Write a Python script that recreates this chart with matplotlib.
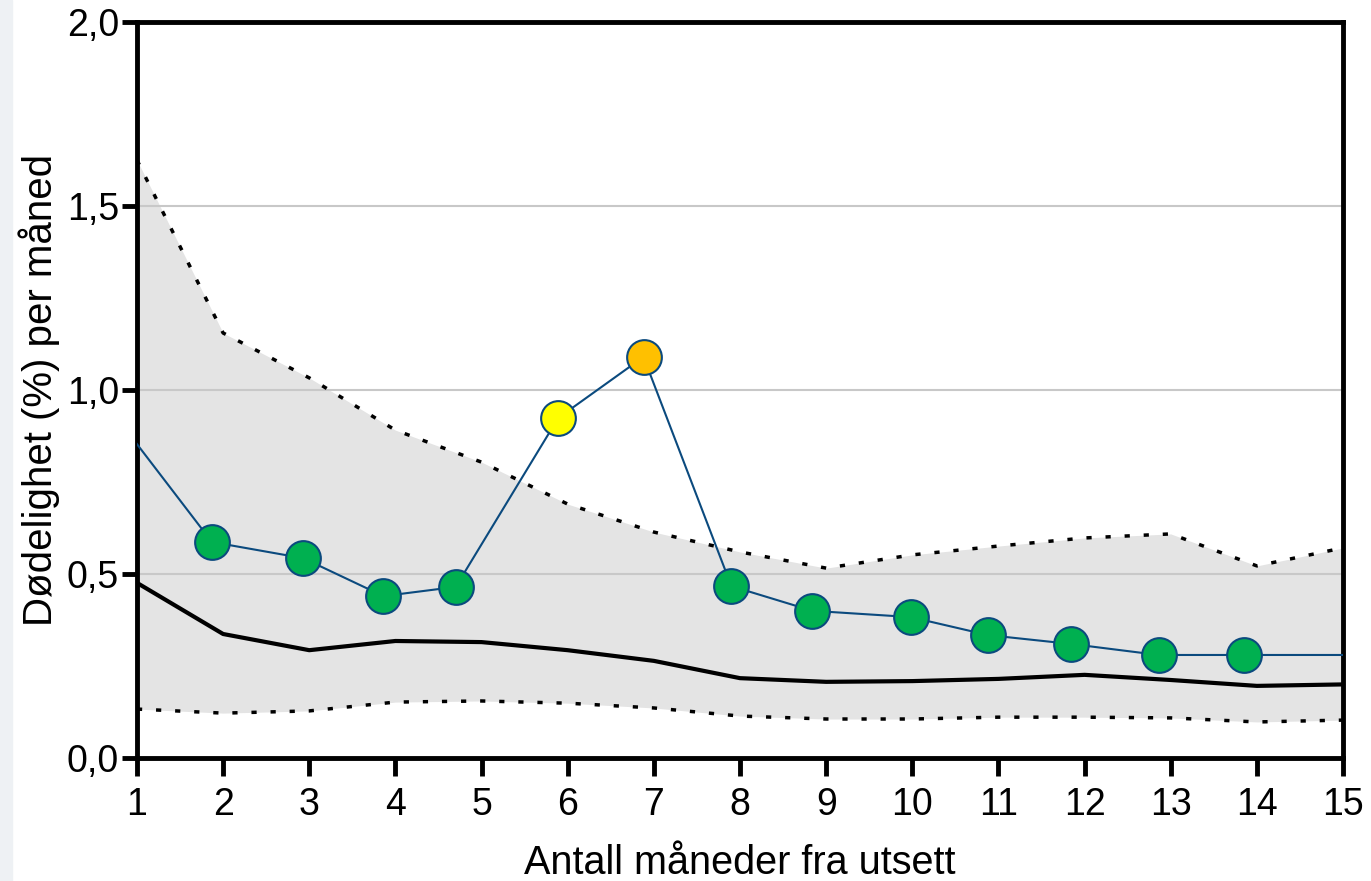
import matplotlib
matplotlib.use("Agg")
import matplotlib.pyplot as plt
from matplotlib.patches import Rectangle

plt.rcParams['font.family'] = ['Liberation Sans', 'DejaVu Sans']

# data
months = list(range(1, 16))
upper = [1.625, 1.155, 1.033, 0.891, 0.804, 0.690, 0.614, 0.560, 0.516,
         0.552, 0.576, 0.598, 0.609, 0.522, 0.571]
median = [0.476, 0.337, 0.293, 0.318, 0.315, 0.293, 0.264, 0.217, 0.207,
          0.209, 0.215, 0.226, 0.212, 0.196, 0.200]
lower = [0.133, 0.122, 0.128, 0.152, 0.155, 0.149, 0.136, 0.114, 0.106,
         0.106, 0.111, 0.111, 0.109, 0.098, 0.103]

obs_x = [1.0, 1.87, 2.93, 3.86, 4.70, 5.89, 6.88, 7.90, 8.84, 9.98,
         10.88, 11.84, 12.86, 13.85, 15.0]
obs_y = [0.853, 0.587, 0.543, 0.440, 0.465, 0.924, 1.090, 0.467, 0.400,
         0.383, 0.334, 0.310, 0.280, 0.280, 0.280]
obs_col = [None, '#00b050', '#00b050', '#00b050', '#00b050', '#ffff00',
           '#ffc000', '#00b050', '#00b050', '#00b050', '#00b050', '#00b050',
           '#00b050', '#00b050', None]

fig = plt.figure(figsize=(13.71, 8.81), dpi=100)
fig.patches.append(Rectangle((0, 0), 12 / 1371, 1, transform=fig.transFigure,
                             color='#eef1f4', zorder=0))
ax = fig.add_axes([0.0999, 0.1396, 0.8797, 0.8354])

ax.fill_between(months, lower, upper, color='#e4e4e4', lw=0, zorder=1)
for y in [0.5, 1.0, 1.5]:
    ax.axhline(y, color='#c8c8c8', lw=1.5, zorder=2)

ax.plot(months, upper, color='black', lw=2.5, ls=(0, (1.5, 4)), zorder=3)
ax.plot(months, lower, color='black', lw=2.5, ls=(0, (1.5, 4)), zorder=3)
ax.plot(months, median, color='black', lw=3, zorder=3)

ax.plot(obs_x, obs_y, color='#0b4a7e', lw=1.5, zorder=4)
for x, y, c in zip(obs_x, obs_y, obs_col):
    if c:
        ax.plot(x, y, 'o', ms=25, mfc=c, mec='#0b4a7e', mew=1.5, zorder=5)

ax.set_xlim(1, 15)
ax.set_ylim(0, 2.0)
ax.set_xticks(months)
ax.set_yticks([0, 0.5, 1.0, 1.5, 2.0])
ax.set_yticklabels(['0,0', '0,5', '1,0', '1,5', '2,0'])
ax.tick_params(axis='both', labelsize=27, width=3.5, direction='out')
ax.tick_params(axis='x', length=13, pad=8)
ax.tick_params(axis='y', length=11, pad=2)
for s in ax.spines.values():
    s.set_linewidth(3.5)

ax.set_xlabel('Antall måneder fra utsett', fontsize=28.5, labelpad=15)
ax.set_ylabel('Dødelighet (%) per måned', fontsize=29, labelpad=5)

fig.savefig('out.png', dpi=100)
